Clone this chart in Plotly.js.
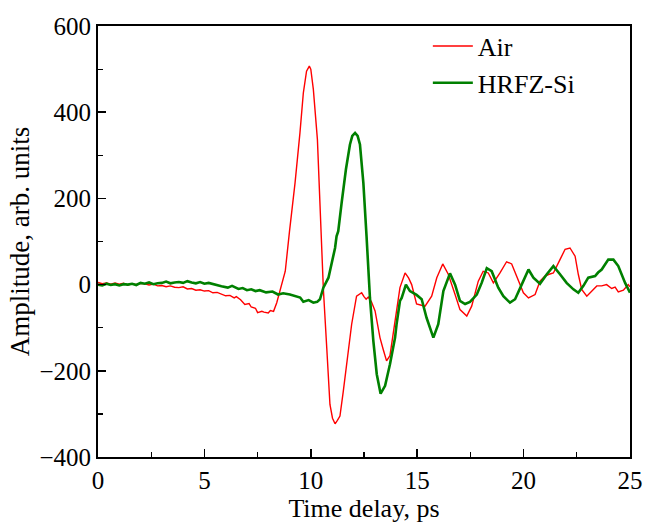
<!DOCTYPE html>
<html>
<head>
<meta charset="utf-8">
<script src="https://cdn.plot.ly/plotly-3.0.1.min.js"></script>
<style>html,body{margin:0;padding:0;background:#fff;}#chart{width:645px;height:523px;}</style>
</head>
<body>
<div id="chart"></div>
<script>
// Air (reference pulse)
const airTime = [0,0.2,0.4,0.6,0.8,1.0,1.2,1.4,1.6,1.8,2.0,2.2,2.4,2.6,2.8,3.0,3.2,3.4,3.6,3.8,4.0,4.2,4.4,4.6,4.8,5.0,5.2,5.4,5.6,5.8,6.0,6.2,6.4,6.5,6.7,6.9,7.1,7.2,7.4,7.5,7.7,7.8,8.0,8.1,8.25,8.4,8.55,8.7,8.8,9.0,9.26,9.49,9.65,9.8,9.93,10.0,10.12,10.31,10.51,10.59,10.75,10.9,11.02,11.14,11.25,11.37,11.52,11.69,11.92,12.15,12.39,12.5,12.6,12.7,12.85,13.02,13.25,13.4,13.56,13.72,13.88,14.03,14.19,14.43,14.6,14.74,14.97,15.2,15.37,15.68,15.92,16.2,16.46,16.78,17.01,17.33,17.56,17.87,18.1,18.34,18.58,18.89,19.2,19.44,19.75,19.99,20.23,20.54,20.77,21.0,21.2,21.4,21.71,21.95,22.18,22.42,22.57,22.73,22.97,23.2,23.44,23.67,23.9,24.14,24.3,24.45,24.69,24.92,25.0];
const airAmp = [5,2,4,1,4,1,3,-1,2,0,3,2,-1,1,-3,-2,-5,-3,-6,-7,-5,-10,-9,-13,-12,-15,-14,-19,-18,-22,-26,-25,-31,-28,-35,-46,-44,-52,-55,-65,-62,-64,-66,-60,-62,-42,-15,10,31,124,236,352,445,495,507,500,453,337,112,-10,-147,-278,-310,-323,-315,-305,-250,-185,-92,-27,-19,-28,-34,-29,-40,-61,-123,-150,-177,-165,-108,-60,-7,27,15,0,-45,-48,-50,-27,16,48,24,-23,-58,-73,-50,8,31,27,4,27,53,48,8,-19,-31,-23,8,20,24,27,58,82,85,66,24,-11,-27,-15,-3,-3,0,-9,-6,-17,-13,0,-5];

// HRFZ-Si (transmitted pulse)
const siTime = [0,0.2,0.4,0.6,0.8,1.0,1.2,1.4,1.6,1.8,2.0,2.2,2.4,2.6,2.8,3.0,3.2,3.4,3.6,3.8,4.0,4.2,4.4,4.6,4.8,5.0,5.2,5.4,5.6,5.8,6.1,6.3,6.6,6.8,7.0,7.2,7.4,7.6,7.9,8.2,8.46,8.7,9.02,9.3,9.5,9.65,9.9,10.12,10.3,10.43,10.59,10.83,10.98,11.14,11.21,11.29,11.45,11.65,11.84,11.95,12.08,12.2,12.31,12.47,12.62,12.78,12.94,13.1,13.28,13.49,13.72,13.96,14.03,14.19,14.27,14.47,14.66,14.97,15.21,15.44,15.76,15.99,16.23,16.54,16.78,17.01,17.25,17.48,17.8,18.03,18.27,18.5,18.81,19.05,19.36,19.6,19.91,20.23,20.46,20.77,21.09,21.4,21.71,22.02,22.34,22.57,22.81,23.04,23.36,23.5,23.67,23.98,24.22,24.45,24.77,25.0];
const siAmp = [0,-2,2,-1,1,-2,1,0,2,-1,4,2,5,1,3,4,7,3,5,6,4,8,5,3,6,2,4,1,-2,-4,-7,-3,-10,-8,-13,-11,-15,-13,-18,-16,-23,-20,-23,-28,-30,-40,-36,-42,-40,-34,-7,16,47,85,112,124,190,267,325,345,352,345,325,236,112,-31,-131,-208,-253,-235,-185,-123,-92,-38,-31,0,-15,-24,-34,-77,-123,-92,-15,26,0,-38,-45,-40,-23,4,38,31,-7,-27,-42,-34,0,35,16,2,24,43,24,4,-11,-19,-3,16,20,28,35,58,58,43,4,-19];

const data = [
  {x: airTime, y: airAmp, name: 'Air', type: 'scatter', mode: 'lines',
   line: {color: '#ff0000', width: 1.4}},
  {x: siTime, y: siAmp, name: 'HRFZ-Si', type: 'scatter', mode: 'lines',
   line: {color: '#008000', width: 2.6}}
];

const fam = '"Liberation Serif", "Times New Roman", serif';
const tickFont = {family: fam, size: 25, color: '#000'};
const legFont = {family: fam, size: 26, color: '#000'};
const xTitleFont = {family: fam, size: 26, color: '#000'};
const yTitleFont = {family: fam, size: 27, color: '#000'};

const layout = {
  width: 645, height: 523,
  margin: {l: 98, r: 15, t: 26, b: 66},
  paper_bgcolor: '#fff', plot_bgcolor: '#fff',
  font: tickFont,
  showlegend: true,
  legend: {x: 0.62, y: 1.008, xanchor: 'left', yanchor: 'top', bgcolor: 'rgba(0,0,0,0)',
           font: legFont, tracegroupgap: 0, itemwidth: 40},
  xaxis: {
    range: [0, 25], showgrid: false, zeroline: false,
    showline: true, linecolor: '#000', linewidth: 2, mirror: true,
    ticks: 'inside', ticklen: 8, tickwidth: 1.5, tickcolor: '#000',
    tickvals: [0, 5, 10, 15, 20, 25],
    minor: {ticks: 'inside', ticklen: 5, tickwidth: 1.2, tickcolor: '#000', dtick: 2.5, showgrid: false},
    tickfont: tickFont,
    title: {text: 'Time delay, ps', font: xTitleFont, standoff: 4}
  },
  yaxis: {
    range: [-400, 600], showgrid: false, zeroline: false,
    showline: true, linecolor: '#000', linewidth: 2, mirror: true,
    ticks: 'inside', ticklen: 8, tickwidth: 1.5, tickcolor: '#000',
    tickvals: [-400, -200, 0, 200, 400, 600],
    minor: {ticks: 'inside', ticklen: 5, tickwidth: 1.2, tickcolor: '#000', dtick: 100, showgrid: false},
    tickfont: tickFont,
    title: {text: 'Amplitude, arb. units', font: yTitleFont, standoff: 2}
  }
};

Plotly.newPlot('chart', data, layout, {displayModeBar: false, staticPlot: true});
</script>
</body>
</html>
